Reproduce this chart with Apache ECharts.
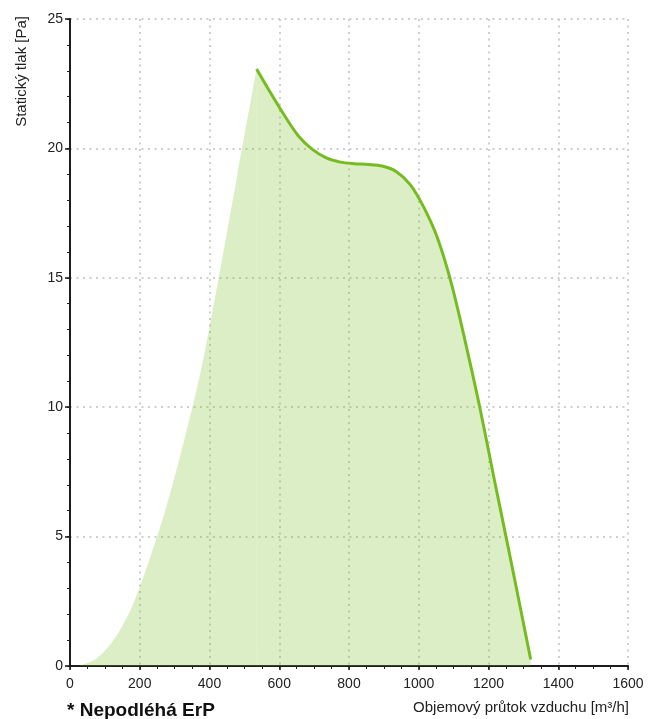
<!DOCTYPE html>
<html>
<head>
<meta charset="utf-8">
<script src="https://cdn.jsdelivr.net/npm/echarts@6/dist/echarts.min.js"></script>
<style>
  html, body { margin: 0; padding: 0; background: #fff; }
  #chart { width: 655px; height: 719px; }
</style>
</head>
<body>
<div id="chart"></div>
<script>
// system curve (left edge of the shaded area)
const flowSystem = [25, 75, 125, 175, 225, 275, 325, 375, 425, 480, 535];
const pressSystem = [0, 0.28, 1.0, 2.2, 4.0, 6.1, 8.6, 11.4, 14.9, 19.0, 23.07];

// fan curve
const flowFan = [535, 575, 615, 655, 695, 735, 775, 815, 855, 895, 935, 975, 1015, 1055, 1095, 1135, 1175, 1215, 1255, 1295, 1321];
const pressFan = [23.07, 22.15, 21.27, 20.48, 19.96, 19.63, 19.47, 19.41, 19.38, 19.32, 19.11, 18.61, 17.71, 16.49, 14.71, 12.44, 10.0, 7.31, 4.68, 2.0, 0.25];

const xTicks = [0, 200, 400, 600, 800, 1000, 1200, 1400, 1600];
const yTicks = [0, 5, 10, 15, 20, 25];

const fontFamily = '"Liberation Sans", Arial, sans-serif';
const lineColor = '#76bc21';
const fillColor = '#78bd22';
const gridLine = { show: true, lineStyle: { color: '#cfcfcf', width: 2, type: [2, 4.5] } };

const chart = echarts.init(document.getElementById('chart'));

const option = {
  animation: false,
  grid: { left: 70, right: 27, top: 19, bottom: 53 },
  xAxis: [
    {
      type: 'value',
      position: 'bottom',
      min: xTicks[0],
      max: xTicks[xTicks.length - 1],
      interval: 200,
      axisLine: { show: true, onZero: false, lineStyle: { color: '#111', width: 2 } },
      axisTick: { show: true, length: 4, lineStyle: { color: '#111', width: 1.5 } },
      minorTick: { show: true, splitNumber: 4, length: 3, lineStyle: { color: '#111', width: 1 } },
      splitLine: gridLine,
      axisLabel: { fontSize: 14, color: '#222', fontFamily: fontFamily, margin: 11, formatter: v => String(v) }
    },
    {
      type: 'value',
      position: 'top',
      min: xTicks[0],
      max: xTicks[xTicks.length - 1],
      interval: 50,
      axisLine: { show: true, lineStyle: { color: '#222', width: 1.5 } },
      axisTick: { show: true, inside: true, length: 3, lineStyle: { color: '#222', width: 1 } },
      splitLine: { show: false },
      axisLabel: { show: false }
    }
  ],
  yAxis: [
    {
      type: 'value',
      position: 'left',
      min: yTicks[0],
      max: yTicks[yTicks.length - 1],
      interval: 5,
      axisLine: { show: true, onZero: false, lineStyle: { color: '#111', width: 2 } },
      axisTick: { show: true, length: 5, lineStyle: { color: '#111', width: 1.5 } },
      minorTick: { show: true, splitNumber: 5, length: 3, lineStyle: { color: '#111', width: 1 } },
      splitLine: gridLine,
      axisLabel: { fontSize: 14, color: '#222', fontFamily: fontFamily, margin: 7, formatter: v => String(v) }
    },
    {
      type: 'value',
      position: 'right',
      min: yTicks[0],
      max: yTicks[yTicks.length - 1],
      interval: 1,
      axisLine: { show: true, lineStyle: { color: '#222', width: 1.5 } },
      axisTick: { show: true, inside: true, length: 3, lineStyle: { color: '#222', width: 1 } },
      splitLine: { show: false },
      axisLabel: { show: false }
    }
  ],
  series: [
    {
      name: 'system',
      type: 'line',
      data: flowSystem.map((x, i) => [x, pressSystem[i]]),
      smooth: 0.3,
      symbol: 'none',
      lineStyle: { width: 0, opacity: 0 },
      areaStyle: { color: fillColor, opacity: 0.26, origin: 'start' },
      z: 1
    },
    {
      name: 'fan',
      type: 'line',
      data: flowFan.map((x, i) => [x, pressFan[i]]),
      smooth: 0.3,
      symbol: 'none',
      lineStyle: { color: lineColor, width: 3 },
      areaStyle: { color: fillColor, opacity: 0.26, origin: 'start' },
      z: 3
    }
  ],
  graphic: [
    {
      type: 'text',
      x: 22,
      y: 16,
      rotation: Math.PI / 2,
      style: {
        text: 'Statický tlak [Pa]',
        fontSize: 15,
        fontFamily: fontFamily,
        fill: '#222',
        textAlign: 'right',
        textVerticalAlign: 'middle'
      }
    },
    {
      type: 'text',
      x: 629,
      y: 708,
      style: {
        text: 'Objemový průtok vzduchu [m³/h]',
        fontSize: 15,
        fontFamily: fontFamily,
        fill: '#222',
        textAlign: 'right',
        textVerticalAlign: 'middle'
      }
    },
    {
      type: 'text',
      x: 67,
      y: 711,
      style: {
        text: '* Nepodléhá ErP',
        fontSize: 19,
        fontWeight: 'bold',
        fontFamily: fontFamily,
        fill: '#111',
        textAlign: 'left',
        textVerticalAlign: 'middle'
      }
    }
  ]
};

chart.setOption(option);
</script>
</body>
</html>
